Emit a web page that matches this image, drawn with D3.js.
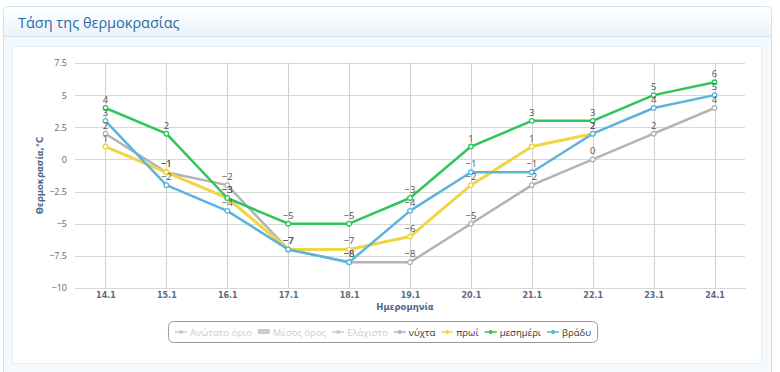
<!DOCTYPE html>
<html>
<head>
<meta charset="utf-8">
<script src="https://cdn.jsdelivr.net/npm/d3@7/dist/d3.min.js"></script>
<style>
  body { margin: 0; background: #fff; font-family: "Open Sans", sans-serif; }
</style>
</head>
<body>
<div id="chart-area"></div>
<script>
// data
var dates = ["14.1", "15.1", "16.1", "17.1", "18.1", "19.1", "20.1", "21.1", "22.1", "23.1", "24.1"]
var night = [2, -1, -2, -7, -8, -8, -5, -2, 0, 2, 4]
var morning = [1, -1, -3, -7, -7, -6, -2, 1, 2, null, null]
var noon = [4, 2, -3, -5, -5, -3, 1, 3, 3, 5, 6]
var evening = [3, -2, -4, -7, -8, -4, -1, -1, 2, 4, 5]
var yTicks = [7.5, 5, 2.5, 0, -2.5, -5, -7.5, -10]

var series = [
    { name: "νύχτα", values: night, color: "#b3b3b3", width: 2.5 },
    { name: "πρωί", values: morning, color: "#f0d547", width: 3 },
    { name: "μεσημέρι", values: noon, color: "#2fc55a", width: 2.5 },
    { name: "βράδυ", values: evening, color: "#5cb3de", width: 2.5 }
]
var legendItems = [
    { name: "Ανώτατο όριο", type: "line", hidden: true },
    { name: "Μέσος όρος", type: "rect", hidden: true },
    { name: "Ελάχιστο", type: "line", hidden: true }
].concat(series.map(function(s) { return { name: s.name, type: "line", color: s.color } }))

var W = 780, H = 372
var margin = { left: 75, right: 35, top: 63, bottom: 84 }
var width = W - margin.left - margin.right,
    height = H - margin.top - margin.bottom

var svg = d3.select("#chart-area")
    .append("svg")
        .attr("width", W)
        .attr("height", H)

var defs = svg.append("defs")
var grad = defs.append("linearGradient")
    .attr("id", "head").attr("x1", 0).attr("y1", 0).attr("x2", 0).attr("y2", 1)
grad.append("stop").attr("offset", "0%").attr("stop-color", "#ffffff")
grad.append("stop").attr("offset", "100%").attr("stop-color", "#e9f3fa")

// panel
svg.append("rect")
    .attr("x", 3.5).attr("y", 6.5).attr("width", 768).attr("height", 370)
    .attr("rx", 4)
    .attr("fill", "#f3f9fd").attr("stroke", "#cfe4f2")
svg.append("path")
    .attr("d", "M4,36 V11 a4,4 0 0 1 4,-4 H767 a4,4 0 0 1 4,4 V36 Z")
    .attr("fill", "url(#head)")
svg.append("line")
    .attr("x1", 4).attr("x2", 771).attr("y1", 36.5).attr("y2", 36.5)
    .attr("stroke", "#cfe4f2")
svg.append("text")
    .attr("x", 18).attr("y", 28)
    .attr("font-size", "14.5px")
    .attr("fill", "#2b6ca3")
    .text("Τάση της θερμοκρασίας")
svg.append("rect")
    .attr("x", 12.5).attr("y", 46.5).attr("width", 749).attr("height", 317)
    .attr("fill", "#ffffff").attr("stroke", "#e6eff6")

var g = svg.append("g")
    .attr("transform", "translate(" + margin.left + "," + margin.top + ")")

// scales
var x = d3.scalePoint()
    .domain(dates)
    .range([0, width])
    .padding(0.5)
var y = d3.scaleLinear()
    .domain([-10, 7.5])
    .range([height, 0])

// grid
g.append("g")
    .selectAll("line")
    .data(yTicks)
    .enter().append("line")
        .attr("x1", 0).attr("x2", width)
        .attr("y1", function(d) { return Math.round(y(d)) + 0.5 })
        .attr("y2", function(d) { return Math.round(y(d)) + 0.5 })
        .attr("stroke", "#d8d8d8")
g.append("g")
    .selectAll("line")
    .data(dates)
    .enter().append("line")
        .attr("x1", function(d) { return Math.round(x(d)) + 0.5 })
        .attr("x2", function(d) { return Math.round(x(d)) + 0.5 })
        .attr("y1", 0).attr("y2", height)
        .attr("stroke", "#d0d0d0")

// Y Axis
var yAxisCall = d3.axisLeft(y)
    .tickValues(yTicks)
    .tickSize(0)
    .tickPadding(8)
    .tickFormat(function(d) { return d < 0 ? "−" + Math.abs(d) : d })
var yAxis = g.append("g").call(yAxisCall)
yAxis.select(".domain").remove()
yAxis.selectAll("text")
    .attr("font-family", "Open Sans, sans-serif")
    .attr("font-size", "9px")
    .attr("fill", "#666")

// X Axis
var xAxisCall = d3.axisBottom(x).tickSize(0).tickPadding(4)
var xAxis = g.append("g")
    .attr("transform", "translate(0," + height + ")")
    .call(xAxisCall)
xAxis.select(".domain").attr("stroke", "#d8d8d8")
xAxis.selectAll("text")
    .attr("font-family", "DejaVu Sans, sans-serif")
    .attr("font-weight", "bold")
    .attr("font-size", "8px")
    .attr("fill", "#5a6a85")

// axis titles
g.append("text")
    .attr("x", width / 2 - 5)
    .attr("y", height + 22)
    .attr("text-anchor", "middle")
    .attr("font-family", "DejaVu Sans, sans-serif")
    .attr("font-weight", "bold")
    .attr("font-size", "8.5px")
    .attr("fill", "#4f6a8c")
    .text("Ημερομηνία")
g.append("text")
    .attr("transform", "rotate(-90)")
    .attr("x", -(height / 2))
    .attr("y", -32)
    .attr("text-anchor", "middle")
    .attr("font-family", "DejaVu Sans, sans-serif")
    .attr("font-weight", "bold")
    .attr("font-size", "8.5px")
    .attr("fill", "#4f6a8c")
    .text("Θερμοκρασία,°C")

// lines
var line = d3.line()
    .defined(function(d) { return d != null })
    .x(function(d, i) { return x(dates[i]) })
    .y(function(d) { return y(d) })

series.forEach(function(s) {
    var sg = g.append("g")
    sg.append("path")
        .datum(s.values)
        .attr("d", line)
        .attr("fill", "none")
        .attr("stroke", s.color)
        .attr("stroke-width", s.width)
        .attr("stroke-linejoin", "round")
    var pts = s.values.map(function(v, i) { return { v: v, d: dates[i] } })
        .filter(function(p) { return p.v != null })
    sg.selectAll("circle")
        .data(pts)
        .enter().append("circle")
            .attr("cx", function(p) { return x(p.d) })
            .attr("cy", function(p) { return y(p.v) })
            .attr("r", 2.3)
            .attr("fill", "#fff")
            .attr("stroke", s.color)
            .attr("stroke-width", 1.3)
    s.pts = pts
})

// data labels
series.forEach(function(s) {
    g.append("g")
        .selectAll("text")
        .data(s.pts)
        .enter().append("text")
            .attr("x", function(p) { return x(p.d) })
            .attr("y", function(p) { return y(p.v) - 5 })
            .attr("text-anchor", "middle")
            .attr("font-size", "9.5px")
            .attr("fill", "#555")
            .text(function(p) { return p.v < 0 ? "−" + Math.abs(p.v) : p.v })
})

// legend
var lg = svg.append("g")
var box = lg.append("rect")
    .attr("rx", 5)
    .attr("fill", "#fff")
    .attr("stroke", "#999")
var cx = 0
legendItems.forEach(function(it) {
    var col = it.hidden ? "#cccccc" : it.color
    var ig = lg.append("g").attr("transform", "translate(" + cx + ",0)")
    if (it.type == "rect") {
        ig.append("rect").attr("x", 0).attr("y", -3).attr("width", 12).attr("height", 5).attr("fill", col)
    } else {
        ig.append("line").attr("x1", 0).attr("x2", 12).attr("y1", 0).attr("y2", 0)
            .attr("stroke", col).attr("stroke-width", 1.5)
        ig.append("circle").attr("cx", 6).attr("cy", 0).attr("r", 2).attr("fill", col)
    }
    var t = ig.append("text")
        .attr("x", 15).attr("y", 3.5)
        .attr("font-size", "9.5px")
        .attr("fill", it.hidden ? "#cccccc" : "#333")
        .text(it.name)
    cx += 15 + t.node().getComputedTextLength() + 6
})
var lw = cx - 6
var lx = 383 - lw / 2
lg.attr("transform", "translate(" + lx + ",332)")
box.attr("x", -6.5).attr("y", -10.5).attr("width", lw + 13).attr("height", 21)
</script>
</body>
</html>
